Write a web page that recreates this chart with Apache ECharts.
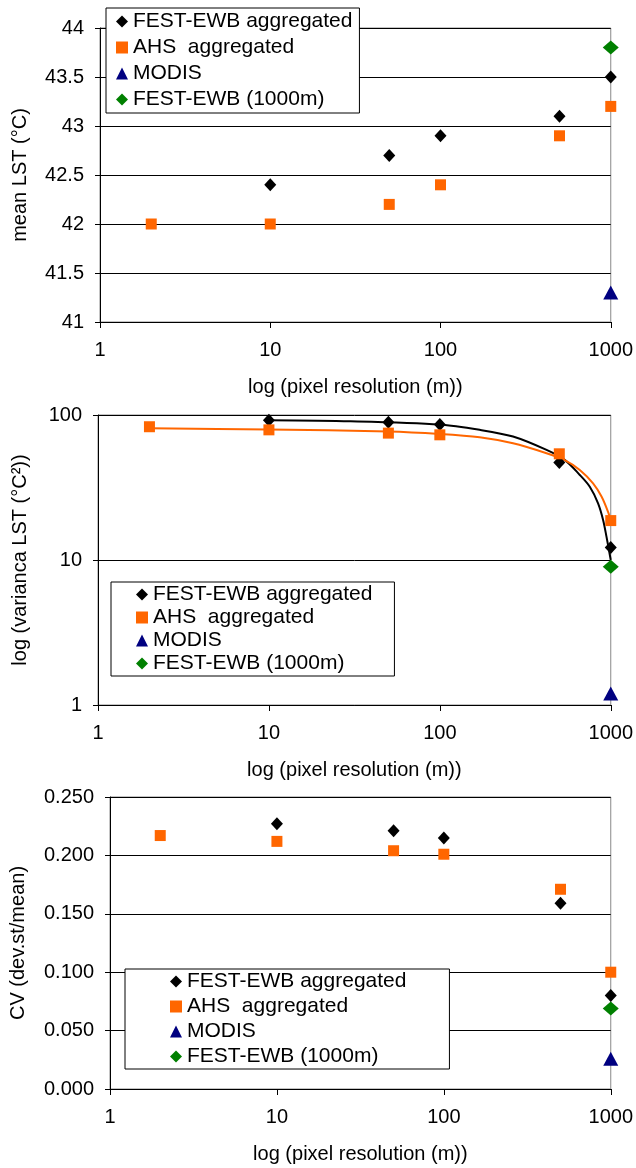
<!DOCTYPE html>
<html lang="en">
<head>
  <meta charset="UTF-8" />
  <title>LST vs pixel resolution</title>
  <script src="https://cdn.jsdelivr.net/npm/echarts@6.0.0/dist/echarts.min.js"></script>
  <style>
    html, body { margin: 0; padding: 0; background: #fff; }
    #chart { width: 636px; height: 1168px; }
  </style>
</head>
<body>
  <div id="chart"></div>

  <script>
    // pixel resolutions (m)
    const resFest = [10, 50, 100, 500, 1000];
    const resAhs = [2, 10, 50, 100, 500, 1000];
    const resSingle = 1000;

    // panel 1: mean LST (°C)
    const meanFest = [42.4, 42.7, 42.9, 43.1, 43.5];
    const meanAhs = [42.0, 42.0, 42.2, 42.4, 42.9, 43.2];
    const meanModis = 41.3;
    const meanFest1000 = 43.8;

    // panel 2: variance LST (°C²)
    const varFest = [92, 89, 86, 47, 12.2];
    const varAhs = [83, 79, 75, 73, 54, 18.7];
    const varModis = 1.2;
    const varFest1000 = 9.0;
    // trend curves
    const trendFestX = [10, 30, 100, 171, 268, 421, 538, 659, 754, 843, 902, 944, 1000];
    const trendFestY = [92, 90.5, 86, 79, 71, 57.4, 49, 38.6, 32, 24.6, 18.9, 14.5, 10];
    const trendAhsX = [2, 10, 50, 100, 171, 268, 421, 538, 659, 788, 883, 964, 1000];
    const trendAhsY = [81, 79.5, 77, 74, 70.2, 63.8, 54.5, 48.9, 41.8, 33.8, 27.4, 21.5, 18.7];

    // panel 3: CV (dev.st/mean)
    const cvFest = [0.227, 0.221, 0.215, 0.159, 0.080];
    const cvAhs = [0.217, 0.212, 0.204, 0.201, 0.171, 0.100];
    const cvModis = 0.026;
    const cvFest1000 = 0.069;

    const legendNames = ['FEST-EWB aggregated', 'AHS  aggregated', 'MODIS', 'FEST-EWB (1000m)'];
    const xTitle = 'log (pixel resolution (m))';

    const font = 'Liberation Sans, Arial, sans-serif';
    const txt = { color: '#000', fontSize: 20, fontFamily: font };
    const zip = (xs, ys) => xs.map((x, i) => [x, ys[i]]);

    function xAxis(gi) {
      return {
        gridIndex: gi, type: 'log', logBase: 10, min: 1, max: 1000,
        name: xTitle, nameLocation: 'middle', nameGap: 55, nameTextStyle: txt,
        axisLine: { lineStyle: { color: '#000', width: 1 } },
        axisTick: { show: true, length: 6, lineStyle: { color: '#000' } },
        minorTick: { show: false },
        axisLabel: Object.assign({ margin: 18, formatter: v => String(v) }, txt),
        splitLine: { show: false }
      };
    }

    function yAxisBase(gi, name, gap) {
      return {
        gridIndex: gi,
        name: name, nameLocation: 'middle', nameRotate: 90, nameGap: gap, nameTextStyle: txt,
        axisLine: { show: true, lineStyle: { color: '#000', width: 1 } },
        axisTick: { show: true, length: 5, lineStyle: { color: '#000' } },
        splitLine: { show: true, lineStyle: { color: '#000', width: 1 } }
      };
    }

    function legend(left, top, padding, gap) {
      return {
        orient: 'vertical', left: left, top: top, padding: padding, itemGap: gap,
        itemWidth: 12, itemHeight: 12,
        backgroundColor: '#fff', borderColor: '#000', borderWidth: 1, borderRadius: 0,
        textStyle: Object.assign({}, txt, { fontSize: 21 }),
        data: legendNames, selectedMode: false
      };
    }

    function scatterSet(gi, fest, ahs, modis, fest1000) {
      const base = { type: 'scatter', xAxisIndex: gi, yAxisIndex: gi, z: 5 };
      return [
        Object.assign({ name: legendNames[0], symbol: 'diamond', symbolSize: [12, 13],
          itemStyle: { color: '#000', opacity: 1 }, data: zip(resFest, fest) }, base),
        Object.assign({ name: legendNames[1], symbol: 'rect', symbolSize: 11,
          itemStyle: { color: '#FF6600', opacity: 1 }, data: zip(resAhs, ahs) }, base),
        Object.assign({ name: legendNames[2], symbol: 'triangle', symbolSize: [15, 14],
          itemStyle: { color: '#000080', opacity: 1 }, data: [[resSingle, modis]] }, base),
        Object.assign({ name: legendNames[3], symbol: 'diamond', symbolSize: [16, 14],
          itemStyle: { color: '#008000', opacity: 1 }, data: [[resSingle, fest1000]] }, base)
      ];
    }

    const chart = echarts.init(document.getElementById('chart'));
    const option = {
      animation: false,
      textStyle: { fontFamily: font },
      grid: [
        { left: 100, right: 25, top: 28, height: 294, show: true, borderColor: '#888', borderWidth: 1 },
        { left: 98, right: 25, top: 415, height: 290, show: true, borderColor: '#888', borderWidth: 1 },
        { left: 108, right: 25, top: 797, height: 292, show: true, borderColor: '#888', borderWidth: 1 }
      ],
      legend: [
        legend(106, 8, [3, 7, 3, 10], 5),
        legend(111, 582, [2, 22, 2, 25], 2),
        legend(125, 969, [2, 43, 2, 45], 4)
      ],
      xAxis: [xAxis(0), xAxis(1), xAxis(2)],
      yAxis: [
        Object.assign(yAxisBase(0, 'mean LST (°C)', 70), {
          type: 'value', min: 41, max: 44, interval: 0.5,
          axisLabel: Object.assign({ margin: 16 }, txt)
        }),
        Object.assign(yAxisBase(1, 'log (varianca LST (°C²))', 68), {
          type: 'log', logBase: 10, min: 1, max: 100,
          minorTick: { show: false },
          axisLabel: Object.assign({ margin: 16 }, txt)
        }),
        Object.assign(yAxisBase(2, 'CV (dev.st/mean)', 82), {
          type: 'value', min: 0, max: 0.25, interval: 0.05,
          axisLabel: Object.assign({ margin: 16, formatter: v => v.toFixed(3) }, txt)
        })
      ],
      series: [
        ...scatterSet(0, meanFest, meanAhs, meanModis, meanFest1000),
        { name: 'trend FEST', type: 'line', xAxisIndex: 1, yAxisIndex: 1, smooth: 0.3,
          showSymbol: false, lineStyle: { color: '#000', width: 2 }, data: zip(trendFestX, trendFestY), z: 3 },
        { name: 'trend AHS', type: 'line', xAxisIndex: 1, yAxisIndex: 1, smooth: 0.3,
          showSymbol: false, lineStyle: { color: '#FF6600', width: 2 }, data: zip(trendAhsX, trendAhsY), z: 3 },
        ...scatterSet(1, varFest, varAhs, varModis, varFest1000),
        ...scatterSet(2, cvFest, cvAhs, cvModis, cvFest1000)
      ]
    };
    chart.setOption(option);
  </script>
</body>
</html>
